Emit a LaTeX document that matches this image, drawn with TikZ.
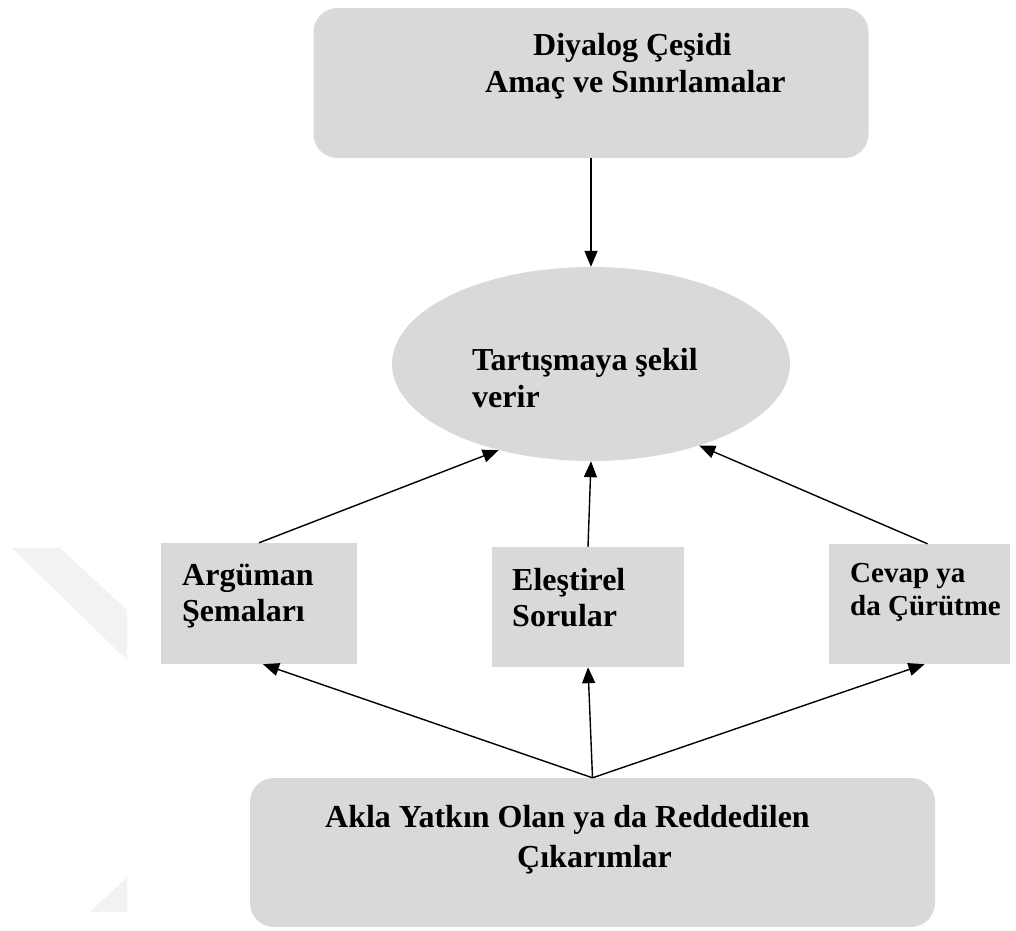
\documentclass[tikz,border=0pt]{standalone}
\usepackage{fontspec}
\setmainfont{Liberation Serif}
\usetikzlibrary{shapes.geometric,arrows.meta}
\definecolor{boxgray}{RGB}{217,217,217}
\definecolor{markgray}{RGB}{242,242,242}
\begin{document}
\begin{tikzpicture}[x=1pt,y=-1pt,
  panel/.style={fill=boxgray, draw=none, inner sep=0pt},
  roundpanel/.style={panel, rectangle, rounded corners=24pt},
  squarepanel/.style={panel, rectangle},
  txt/.style={anchor=base west, inner sep=0pt, font=\fontsize{32}{37}\selectfont\bfseries},
  smalltxt/.style={txt, font=\fontsize{29}{35}\selectfont\bfseries},
  link/.style={line width=1.4pt, -{Triangle[length=16pt,width=13pt]}}
]
\useasboundingbox (0,0) rectangle (1016,930);

% faint chevron mark at the left edge
\fill[markgray] (12,548) -- (60,548) -- (127,610) -- (127,660) -- cycle;
\fill[markgray] (90,912) -- (127,877) -- (127,912) -- cycle;

% panels
\node[roundpanel, minimum width=555pt, minimum height=150pt] (kind) at (591,83) {};
\node[panel, ellipse, minimum width=398pt, minimum height=194pt] (shape) at (591,364) {};
\node[squarepanel, minimum width=196pt, minimum height=121pt] (schemes) at (259,603.5) {};
\node[squarepanel, minimum width=192pt, minimum height=120pt] (questions) at (588,607) {};
\node[squarepanel, minimum width=181pt, minimum height=120pt] (reply) at (919.5,604) {};
\node[roundpanel, minimum width=685pt, minimum height=149pt] (inference) at (592.5,852.5) {};

% texts
\node[txt] (kindA) at (533,55) {Diyalog Çeşidi};
\node[txt] (kindB) at (485,92) {Amaç ve Sınırlamalar};
\node[txt] (shapeA) at (472,370) {Tartışmaya şekil};
\node[txt] (shapeB) at (472,407) {verir};
\node[txt] (schemesA) at (182,585) {Argüman};
\node[txt] (schemesB) at (182,621) {Şemaları};
\node[txt] (questionsA) at (512,590) {Eleştirel};
\node[txt] (questionsB) at (512,626) {Sorular};
\node[smalltxt] (replyA) at (850,582) {Cevap ya};
\node[smalltxt] (replyB) at (850,615) {da Çürütme};
\node[txt] (infA) at (325,827) {Akla Yatkın Olan ya da Reddedilen};
\node[txt] (infB) at (517,867) {Çıkarımlar};

% connectors
\draw[link] (kind.south) -- (shape.north);
\draw[link] (schemes.north) -- (shape.223);
\draw[link] (questions.north) -- (shape.south);
\draw[link] ([xshift=8pt]reply.north) -- (shape.-37);
\draw[link] (inference.north) -- ([xshift=4pt]schemes.south);
\draw[link] (inference.north) -- (questions.south);
\draw[link] (inference.north) -- ([xshift=5pt]reply.south);
\end{tikzpicture}
\end{document}
